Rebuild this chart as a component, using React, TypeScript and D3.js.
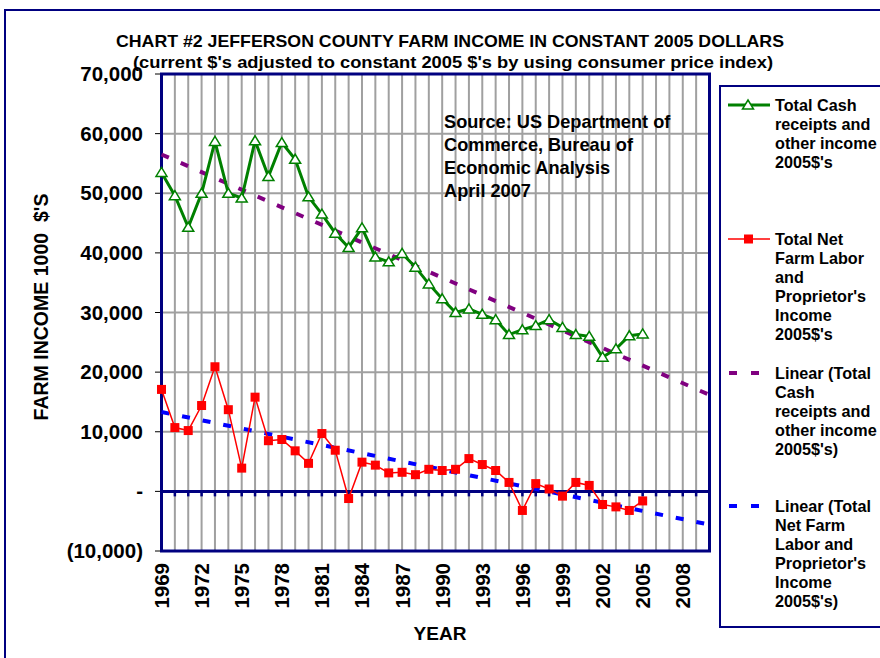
import React from 'react';
import * as d3 from 'd3';

const years = d3.range(1969, 2006);
// Total Cash receipts and other income, 2005 $ (thousands)
const cashIncome = [53500, 49600, 44300, 50000, 58700, 50000, 49200, 58800, 52800, 58500,
    55700, 49400, 46500, 43300, 40900, 44200, 39300, 38500, 39900, 37600, 34800,
    32300, 30000, 30600, 29700, 28800, 26300, 27100, 27800, 28800, 27500, 26300,
    26000, 22500, 23900, 26100, 26400];
// Total Net Farm Labor and Proprietor's Income, 2005 $ (thousands)
const netIncome = [17100, 10700, 10200, 14400, 20900, 13700, 3900, 15800, 8500, 8700,
    6800, 4700, 9700, 6900, -1200, 4900, 4400, 3100, 3200, 2800, 3700,
    3500, 3700, 5500, 4500, 3500, 1500, -3200, 1300, 400, -800, 1500,
    1000, -2200, -2600, -3200, -1600];
const yTicks = [-10000, 0, 10000, 20000, 30000, 40000, 50000, 60000, 70000];
const xLabelYears = [1969, 1972, 1975, 1978, 1981, 1984, 1987, 1990, 1993, 1996, 1999, 2002, 2005, 2008];
const noteLines = ['Source: US Department of', 'Commerce, Bureau of', 'Economic Analysis', 'April 2007'];
const legendItems = [
    { key: 'cash', lines: ['Total Cash', 'receipts and', 'other income', "2005$'s"] },
    { key: 'net', lines: ['Total Net', 'Farm Labor', 'and', "Proprietor's", 'Income', "2005$'s"] },
    { key: 'cashTrend', lines: ['Linear (Total', 'Cash', 'receipts and', 'other income', "2005$'s)"] },
    { key: 'netTrend', lines: ['Linear (Total', 'Net Farm', 'Labor and', "Proprietor's", 'Income', "2005$'s)"] },
];

const NAVY = '#000080';
const FONT = '"Liberation Sans", Arial, sans-serif';

// least squares fit, same as the Excel "Linear" trendline
const linearFit = (xs: number[], ys: number[]) => {
    const mx = d3.mean(xs) as number;
    const my = d3.mean(ys) as number;
    const sxy = d3.sum(xs, (x, i) => (x - mx) * (ys[i] - my));
    const sxx = d3.sum(xs, x => (x - mx) * (x - mx));
    const slope = sxy / sxx;
    return (x: number) => my + slope * (x - mx);
};

const App = () => {
    const left = 161.5, right = 709.5, top = 74, bottom = 551;
    const x = d3.scaleLinear().domain([1969, 2010]).range([left, right]);
    const y = d3.scaleLinear().domain([-10000, 70000]).range([bottom, top]);

    const cashPts = years.map((yr, i) => [yr, cashIncome[i]] as [number, number]);
    const netPts = years.map((yr, i) => [yr, netIncome[i]] as [number, number]);
    const line = d3.line<[number, number]>().x(d => x(d[0])).y(d => y(d[1]));

    const cashFit = linearFit(years, cashIncome);
    const netFit = linearFit(years, netIncome);
    const trendYears = [1969, 2010];

    const allYears = d3.range(1969, 2011);
    const tri = 'M0,-5L5.5,4L-5.5,4Z';

    const legendTop = [105, 239, 373, 506];
    const lineH = 19;

    return (
        <svg width={880} height={658} style={{ position: 'absolute', left: 0, top: 0 }} fontFamily={FONT}>
            <rect x={0} y={0} width={880} height={658} fill="#fff" />
            {/* chart area frame */}
            <rect x={5} y={10} width={900} height={700} fill="#fff" stroke={NAVY} strokeWidth={2} />

            <text x={450} y={47} textAnchor="middle" fontSize={16.5} fontWeight="bold"
                textLength={668} lengthAdjust="spacingAndGlyphs">
                CHART #2 JEFFERSON COUNTY FARM INCOME IN CONSTANT 2005 DOLLARS
            </text>
            <text x={453} y={68} textAnchor="middle" fontSize={16.5} fontWeight="bold"
                textLength={640} lengthAdjust="spacingAndGlyphs">
                (current $'s adjusted to constant 2005 $'s by using consumer price index)
            </text>

            {/* plot area grid */}
            <g stroke="#a0a0a0" strokeWidth={2}>
                {allYears.map(yr => (
                    <line key={'v' + yr} x1={x(yr)} x2={x(yr)} y1={top} y2={bottom} />
                ))}
                {yTicks.map(t => (
                    <line key={'h' + t} x1={left} x2={right} y1={y(t)} y2={y(t)} />
                ))}
            </g>

            {/* y ticks and labels */}
            {yTicks.map(t => (
                <g key={'yt' + t}>
                    <line x1={155} x2={left} y1={y(t)} y2={y(t)} stroke="#000" strokeWidth={1} />
                    <text x={143} y={y(t) + 7} textAnchor="end" fontSize={20.5} fontWeight="bold">
                        {t === 0 ? '-' : t < 0 ? '(' + d3.format(',')(-t) + ')' : d3.format(',')(t)}
                    </text>
                </g>
            ))}

            {/* zero axis with category ticks */}
            <line x1={left} x2={right} y1={y(0)} y2={y(0)} stroke={NAVY} strokeWidth={3} />
            {allYears.map(yr => (
                <line key={'ct' + yr} x1={x(yr)} x2={x(yr)} y1={y(0)} y2={y(0) + 5} stroke={NAVY} strokeWidth={2.5} />
            ))}

            <rect x={left} y={top} width={right - left} height={bottom - top} fill="none" stroke={NAVY} strokeWidth={3} />

            {/* x labels */}
            {xLabelYears.map(yr => (
                <text key={'xl' + yr} transform={`translate(${x(yr) + 7.5},${563}) rotate(-90)`}
                    textAnchor="end" fontSize={20.5} fontWeight="bold">{yr}</text>
            ))}

            <text x={440} y={640} textAnchor="middle" fontSize={19} fontWeight="bold">YEAR</text>
            <text transform="translate(48,307) rotate(-90)" textAnchor="middle" fontSize={19.5} fontWeight="bold"
                style={{ whiteSpace: 'pre' }}>
                {"FARM INCOME 1000  $'S"}
            </text>

            {/* trend lines */}
            <line x1={x(trendYears[0])} x2={x(trendYears[1])} y1={y(cashFit(trendYears[0]))} y2={y(cashFit(trendYears[1]))}
                stroke="#800080" strokeWidth={4} strokeDasharray="8,13" />
            <line x1={x(trendYears[0])} x2={x(trendYears[1])} y1={y(netFit(trendYears[0]))} y2={y(netFit(trendYears[1]))}
                stroke="#0000ff" strokeWidth={4} strokeDasharray="8,13" />

            {/* cash series */}
            <path d={line(cashPts) || ''} fill="none" stroke="#008000" strokeWidth={3} />
            {cashPts.map(p => (
                <path key={'c' + p[0]} d={tri} transform={`translate(${x(p[0])},${y(p[1])})`}
                    fill="#fff" stroke="#008000" strokeWidth={1.5} />
            ))}

            {/* net series */}
            <path d={line(netPts) || ''} fill="none" stroke="#ff0000" strokeWidth={1.5} />
            {netPts.map(p => (
                <rect key={'n' + p[0]} x={x(p[0]) - 4.5} y={y(p[1]) - 4.5} width={9} height={9} fill="#ff0000" />
            ))}

            {/* source note */}
            {noteLines.map((s, i) => (
                <text key={'note' + i} x={444} y={128 + i * 23} fontSize={18.2} fontWeight="bold">{s}</text>
            ))}

            {/* legend */}
            <rect x={720} y={86} width={200} height={541} fill="#fff" stroke={NAVY} strokeWidth={2} />
            {legendItems.map((item, k) => {
                const ly = legendTop[k];
                let sym;
                if (item.key === 'cash') {
                    sym = <g>
                        <line x1={728} x2={770} y1={ly} y2={ly} stroke="#008000" strokeWidth={3} />
                        <path d={tri} transform={`translate(748,${ly})`} fill="#fff" stroke="#008000" strokeWidth={1.5} />
                    </g>;
                } else if (item.key === 'net') {
                    sym = <g>
                        <line x1={728} x2={770} y1={ly} y2={ly} stroke="#ff0000" strokeWidth={1.5} />
                        <rect x={744} y={ly - 4.5} width={9} height={9} fill="#ff0000" />
                    </g>;
                } else {
                    sym = <line x1={729} x2={770} y1={ly} y2={ly} stroke={item.key === 'cashTrend' ? '#800080' : '#0000ff'}
                        strokeWidth={4} strokeDasharray="8,14" />;
                }
                return (
                    <g key={item.key}>
                        {sym}
                        {item.lines.map((s, i) => (
                            <text key={i} x={775} y={ly + 6 + i * lineH} fontSize={16.2} fontWeight="bold">{s}</text>
                        ))}
                    </g>
                );
            })}
        </svg>
    );
};

export default App;
